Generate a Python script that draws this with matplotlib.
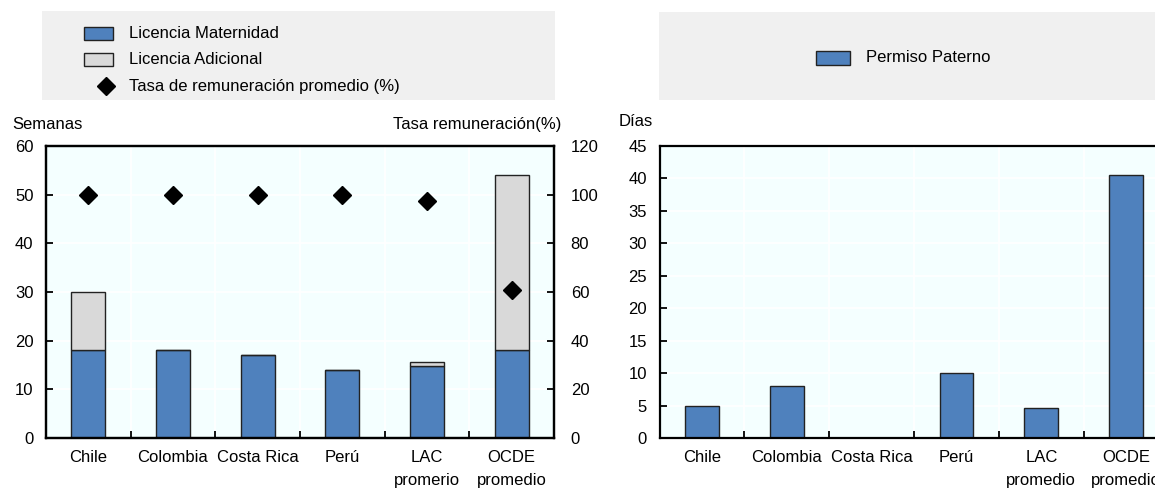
import matplotlib
matplotlib.use("Agg")
import matplotlib.pyplot as plt
from matplotlib.patches import Rectangle
from matplotlib.lines import Line2D
import numpy as np

plt.rcParams['font.family'] = ['Liberation Sans Narrow', 'Liberation Sans', 'DejaVu Sans']

# ---- data ----
categories_left = ["Chile", "Colombia", "Costa Rica", "Perú", "LAC\npromerio", "OCDE\npromedio"]
maternidad = [18, 18, 17, 14, 14.8, 18.1]
adicional = [12, 0, 0, 0, 0.8, 35.9]
tasa = [100, 100, 100, 100, 97.5, 61]

categories_right = ["Chile", "Colombia", "Costa Rica", "Perú", "LAC\npromedio", "OCDE\npromedio"]
paterno = [5, 8, 0, 10, 4.7, 40.5]

left_yticks = [0, 10, 20, 30, 40, 50, 60]
twin_yticks = [0, 20, 40, 60, 80, 100, 120]
right_yticks = [0, 5, 10, 15, 20, 25, 30, 35, 40, 45]

BLUE = "#4F81BD"
GREY = "#D9D9D9"
BG = "#F4FFFF"
LEGBG = "#F0F0F0"
EDGE = "#222222"
FS = 12

W, H = 1155, 488
fig = plt.figure(figsize=(W / 100, H / 100), dpi=100)

def fx(px):
    return px / W

def fy(py):
    return 1 - py / H

def style_axes(ax, cats, yticks):
    n = len(cats)
    x = np.arange(n)
    ax.set_facecolor(BG)
    ax.set_xlim(-0.5, n - 0.5)
    ax.set_xticks(np.arange(n + 1) - 0.5)
    ax.set_xticklabels([])
    ax.set_xticks(x, minor=True)
    ax.set_xticklabels(cats, minor=True, fontsize=FS, linespacing=1.6)
    ax.tick_params(axis='x', which='minor', length=0, pad=9)
    ax.tick_params(axis='x', which='major', direction='in', length=5, width=1.3)
    ax.set_yticks(yticks)
    ax.set_ylim(yticks[0], yticks[-1])
    ax.tick_params(axis='y', direction='in', length=5, width=1.3, labelsize=FS, pad=9)
    ax.grid(True, which='major', color='white', linewidth=1.2)
    ax.set_axisbelow(True)
    for s in ['left', 'bottom', 'top', 'right']:
        ax.spines[s].set_linewidth(1.6)
        ax.spines[s].set_color('black')
    return x

# ---- left chart ----
ax = fig.add_axes([fx(46), fy(438), fx(554) - fx(46), fy(146) - fy(438)])
x = style_axes(ax, categories_left, left_yticks)
ax.bar(x, maternidad, width=0.4, color=BLUE, edgecolor=EDGE, linewidth=1, zorder=2)
ax.bar(x, adicional, width=0.4, bottom=maternidad, color=GREY, edgecolor=EDGE, linewidth=1, zorder=2)
ax2 = ax.twinx()
ax2.set_ylim(twin_yticks[0], twin_yticks[-1])
ax2.set_yticks(twin_yticks)
ax2.tick_params(axis='y', direction='in', length=5, width=1.3, labelsize=FS, pad=12)
for s in ['left', 'bottom', 'top', 'right']:
    ax2.spines[s].set_linewidth(1.6)
ax2.plot(x, tasa, linestyle='none', marker='D', markersize=9, color='black', zorder=5)

fig.text(fx(12), fy(125), "Semanas", fontsize=FS, ha='left', va='center')
fig.text(fx(561), fy(125), "Tasa remuneración(%)", fontsize=FS, ha='right', va='center')

# ---- right chart ----
axr = fig.add_axes([fx(659.6), fy(438), 509 / W, fy(146) - fy(438)])
xr = style_axes(axr, categories_right, right_yticks)
axr.bar(xr, paterno, width=0.4, color=BLUE, edgecolor=EDGE, linewidth=1, zorder=2)
fig.text(fx(619), fy(121), "Días", fontsize=FS, ha='left', va='center')

# ---- legend boxes ----
fig.patches.append(Rectangle((fx(42), fy(100)), fx(555) - fx(42), fy(11) - fy(100),
                             transform=fig.transFigure, facecolor=LEGBG, edgecolor='none', zorder=0))
fig.patches.append(Rectangle((fx(659), fy(100)), fx(1155) - fx(659), fy(12) - fy(100),
                             transform=fig.transFigure, facecolor=LEGBG, edgecolor='none', zorder=0))

leg_items = [("Licencia Maternidad", BLUE, 33), ("Licencia Adicional", GREY, 59)]
for label, col, yc in leg_items:
    fig.patches.append(Rectangle((fx(84), fy(yc + 6.5)), fx(113) - fx(84), 13 / H,
                                 transform=fig.transFigure, facecolor=col, edgecolor=EDGE,
                                 linewidth=1, zorder=2))
    fig.text(fx(129), fy(yc), label, fontsize=FS, ha='left', va='center')
fig.lines.append(Line2D([fx(106)], [fy(86)], transform=fig.transFigure, marker='D',
                        markersize=9, color='black', linestyle='none'))
fig.text(fx(129), fy(86), "Tasa de remuneración promedio (%)", fontsize=FS, ha='left', va='center')

fig.patches.append(Rectangle((fx(816), fy(65)), fx(850) - fx(816), 14 / H,
                             transform=fig.transFigure, facecolor=BLUE, edgecolor=EDGE,
                             linewidth=1, zorder=2))
fig.text(fx(866), fy(58), "Permiso Paterno", fontsize=FS, ha='left', va='center')

fig.savefig("out.png", dpi=100)
